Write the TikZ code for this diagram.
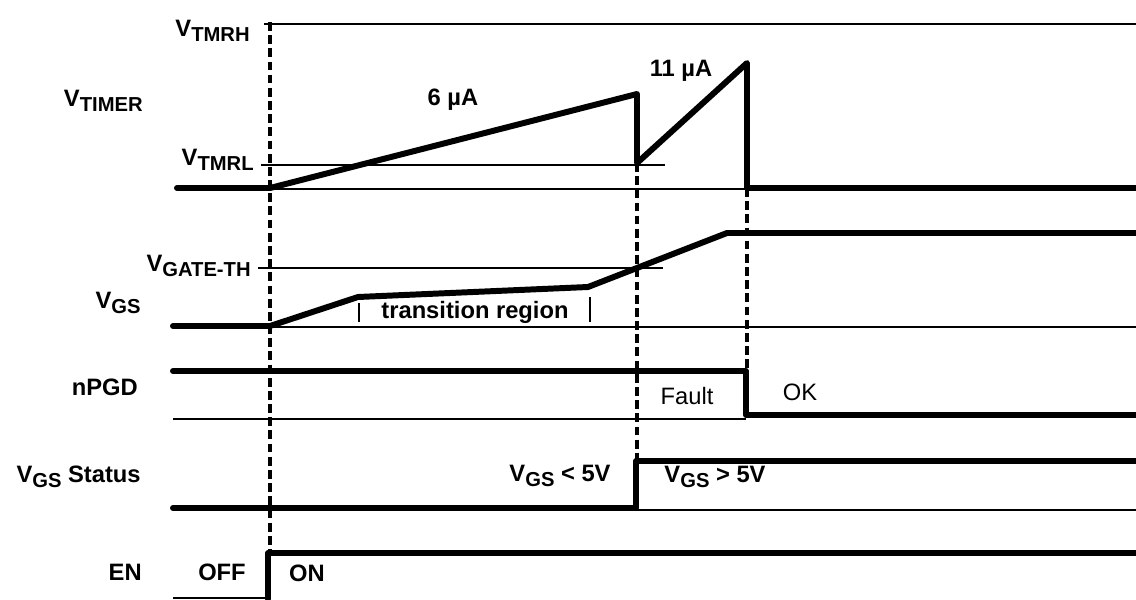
\documentclass[tikz,border=0pt]{standalone}
\usepackage{fontspec}
\setmainfont{Liberation Sans}
\usepackage{tikz}
% V with a lowered subscript
\newcommand{\vsub}[1]{V\raisebox{-0.4ex}{\fontsize{11.5}{12}\selectfont #1}}

\begin{document}
\begin{tikzpicture}[x=0.02cm,y=-0.02cm,
  sig/.style={line width=3.4pt,line join=round,line cap=round},
  ref/.style={line width=0.9pt},
  guide/.style={line width=1.8pt,dash pattern=on 5pt off 2.5pt},
  lbl/.style={font=\fontsize{13.5}{14}\selectfont\bfseries,inner sep=0pt},
  plain/.style={font=\fontsize{13.5}{14}\selectfont,inner sep=0pt}]
\useasboundingbox (0,0) rectangle (1136,599);
%
% V_TIMER
\draw[line width=1.4pt] (264,24) -- (1136,24);
\draw[ref] (261,165) -- (665,165);
\draw[ref] (270,189) -- (747,189);
\draw[sig] (177,188) -- (270,188) -- (637,94) -- (637,163) -- (747,63) -- (747,188) -- (1140,188);
\node[lbl,anchor=east] (tmrh) at (250,31) {\vsub{TMRH}};
\node[lbl,anchor=east] (timer) at (143,101) {\vsub{TIMER}};
\node[lbl,anchor=east] (tmrl) at (254,160) {\vsub{TMRL}};
\node[lbl] (slow) at (453,100) {6 µA};
\node[lbl] (fast) at (681,71) {11 µA};

% V_GS
\draw[ref] (258,268) -- (663,268);
\draw[ref] (270,327) -- (1136,327);
\draw[sig] (173,326) -- (270,326) -- (358,297) -- (588,287) -- (727,233) -- (1140,233);
\draw[line width=1.3pt] (359,303) -- (359,322);
\draw[line width=1.3pt] (590,297) -- (590,322);
\node[lbl] (trans) at (475,312) {transition region};
\node[lbl,anchor=east] (gateth) at (251,266) {\vsub{GATE-TH}};
\node[lbl,anchor=east] (vgs) at (141,303) {\vsub{GS}};

% nPGD
\draw[ref] (173,419) -- (746,419);
\draw[sig] (173,371) -- (746,371) -- (746,415) -- (1140,415);
\node[lbl,anchor=east] (npgd) at (138,387) {nPGD};
\node[plain] (fault) at (687,396) {Fault};
\node[plain] (ok) at (800,392) {OK};

% V_GS status
\draw[ref] (636,510) -- (1136,510);
\draw[sig] (173,508) -- (636,508) -- (636,461) -- (1140,461);
\node[lbl,anchor=east] (status) at (141,477) {\vsub{GS} Status};
\node[lbl] (low) at (560,476) {\vsub{GS} < 5V};
\node[lbl] (high) at (715,477) {\vsub{GS} > 5V};

% EN
\draw[ref] (173,598) -- (268,598);
\draw[sig] (268,599) -- (268,553) -- (1140,553);
\node[lbl,anchor=east] (en) at (142,572) {EN};
\node[lbl] (off) at (222,572) {OFF};
\node[lbl] (on) at (307,573) {ON};

% guides
\draw[guide] (270,22) -- (270,553);
\draw[guide] (637,163) -- (637,461);
\draw[guide] (747,188) -- (747,371);

\end{tikzpicture}
\end{document}
